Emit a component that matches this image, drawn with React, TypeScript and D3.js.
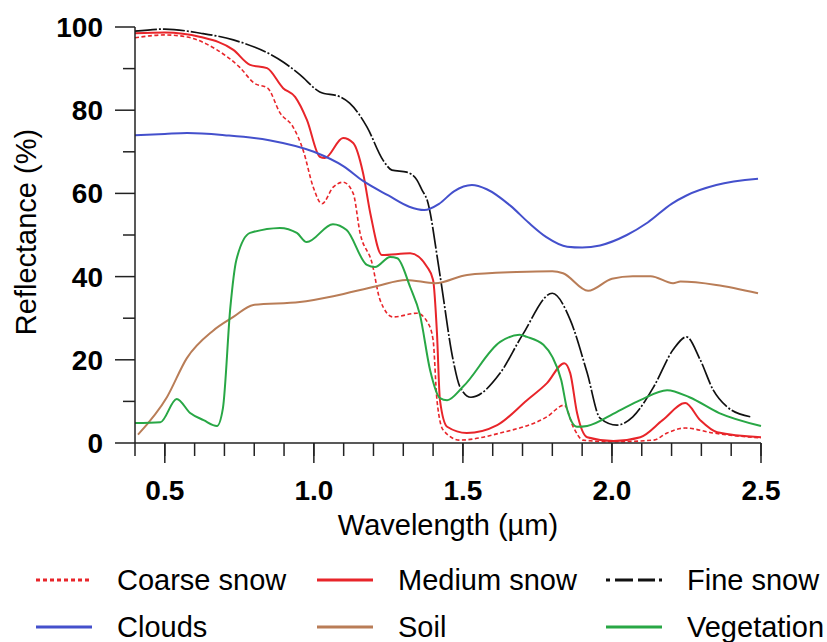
import React from 'react';
import * as d3 from 'd3';

type Pt = [number, number];

// wavelength (µm), reflectance (%)
const coarseSnow: Pt[] = [
  [0.40, 97.4], [0.50, 98.1], [0.575, 97.6], [0.675, 94.5], [0.75, 90.4], [0.80, 86.5], [0.845, 85.3],
  [0.887, 79.3], [0.93, 76], [0.964, 70.4], [0.998, 61.5], [1.027, 57.5], [1.065, 61.5], [1.098, 62.7],
  [1.132, 60], [1.155, 50.5], [1.195, 43.3], [1.222, 34.4], [1.266, 30.3], [1.346, 31.2], [1.383, 28.8],
  [1.40, 24.8], [1.413, 10.3], [1.434, 3.1], [1.49, 0.7], [1.625, 2.4], [1.782, 6.3], [1.84, 9.1],
  [1.87, 3.9], [1.903, 0.7], [2.0, 0.3], [2.14, 0.7], [2.185, 2.4], [2.246, 3.6], [2.34, 2.4], [2.5, 1.2],
];

const mediumSnow: Pt[] = [
  [0.40, 98.5], [0.50, 98.7], [0.62, 97.6], [0.73, 94.5], [0.786, 90.9], [0.843, 90.1], [0.897, 85.3],
  [0.937, 83.2], [0.977, 77.6], [1.02, 68.8], [1.037, 68.5], [1.098, 73.3], [1.132, 72.1], [1.165, 64.9],
  [1.19, 55], [1.228, 45.2], [1.323, 45.6], [1.38, 42.3], [1.40, 39.2], [1.413, 26.4], [1.423, 10.3],
  [1.447, 3.9], [1.513, 2.4], [1.615, 4.3], [1.715, 10.3], [1.782, 14.4], [1.84, 19.2], [1.86, 16.8],
  [1.883, 7.2], [1.917, 1.4], [2.005, 0.5], [2.095, 1.4], [2.17, 5.5], [2.246, 9.6], [2.296, 5.5],
  [2.353, 2.6], [2.5, 1.4],
];

const fineSnow: Pt[] = [
  [0.40, 99], [0.50, 99.5], [0.62, 98.5], [0.73, 96.9], [0.897, 91.6], [0.954, 88.5], [1.02, 84.4],
  [1.088, 83.2], [1.12, 81.7], [1.178, 76], [1.232, 68], [1.262, 65.6], [1.312, 65.1], [1.346, 63.2],
  [1.363, 60.8], [1.38, 58.4], [1.423, 40.4], [1.467, 20], [1.49, 13.5], [1.527, 11], [1.625, 16.8],
  [1.70, 26], [1.80, 36], [1.86, 29.6], [1.917, 16.8], [1.96, 6], [2.017, 4.3], [2.07, 6.3], [2.14, 13.5],
  [2.205, 22.4], [2.25, 25.5], [2.296, 20], [2.34, 12.7], [2.386, 8.7], [2.464, 6.3],
];

const clouds: Pt[] = [
  [0.40, 74], [0.50, 74.3], [0.575, 74.5], [0.70, 74], [0.85, 72.8], [1.0, 70], [1.10, 66.5],
  [1.165, 63], [1.25, 59.5], [1.32, 56.8], [1.37, 56], [1.42, 57.5], [1.47, 60.5], [1.53, 62],
  [1.58, 61], [1.66, 57], [1.72, 53], [1.78, 49.5], [1.85, 47.2], [1.9, 47], [1.96, 47.5], [2.05, 50],
  [2.12, 53], [2.2, 57.5], [2.25, 59.5], [2.35, 62], [2.49, 63.5],
];

const soil: Pt[] = [
  [0.41, 2], [0.507, 11], [0.574, 20.4], [0.662, 27], [0.73, 30.3], [0.797, 33.2], [0.953, 33.9],
  [1.065, 35.3], [1.21, 37.7], [1.31, 39.2], [1.407, 38.4], [1.514, 40.4], [1.68, 41.1], [1.80, 41.3],
  [1.836, 40.8], [1.92, 36.6], [2.0, 39.5], [2.07, 40.1], [2.13, 40.1], [2.205, 38.4], [2.23, 38.8],
  [2.35, 38], [2.49, 36],
];

const vegetation: Pt[] = [
  [0.40, 4.8], [0.485, 5], [0.54, 10.6], [0.585, 7.2], [0.63, 5.5], [0.675, 4.1], [0.695, 8.4],
  [0.72, 32.7], [0.74, 44], [0.786, 50.5], [0.886, 51.7], [0.943, 50.5], [0.976, 48.3], [1.064, 52.6],
  [1.11, 51.2], [1.178, 42.8], [1.205, 42.3], [1.256, 44.7], [1.28, 44.4], [1.323, 37.5], [1.356, 30.8],
  [1.39, 17.5], [1.423, 10.8], [1.447, 10.3], [1.5, 13.5], [1.625, 24.3], [1.69, 26], [1.715, 25.5],
  [1.77, 23.6], [1.80, 20.7], [1.83, 15.1], [1.85, 8], [1.883, 3.9], [1.917, 4.1], [2.017, 7.5],
  [2.095, 10.3], [2.185, 12.7], [2.26, 11], [2.36, 7.2], [2.5, 4.1],
];

const xMajorTicks = [0.5, 1.0, 1.5, 2.0, 2.5];
const xMinorTicks = d3.range(4, 26).map(i => i / 10);
const yMajorTicks = [0, 20, 40, 60, 80, 100];
const yMinorTicks = [10, 30, 50, 70, 90];

const RED = '#e8252a';

const series = [
  { name: 'Coarse snow', data: coarseSnow, color: RED, width: 1.6, dash: '4,2.5' },
  { name: 'Medium snow', data: mediumSnow, color: RED, width: 2, dash: null },
  { name: 'Fine snow', data: fineSnow, color: '#111', width: 1.7, dash: '22,2,2,2' },
  { name: 'Clouds', data: clouds, color: '#4450cc', width: 2, dash: null },
  { name: 'Soil', data: soil, color: '#b97d57', width: 2, dash: null },
  { name: 'Vegetation', data: vegetation, color: '#28a745', width: 2, dash: null },
];

// legend samples use their own patterns
const legendDash: Record<string, string> = {
  'Coarse snow': '4,3',
  'Fine snow': '4,5,18,5,17,4,3,100',
};

const FONT = '"Liberation Sans", Arial, Helvetica, sans-serif';

export default function App() {
  const W = 827;
  const H = 642;
  const x = d3.scaleLinear().domain([0.4, 2.5]).range([135, 761]);
  const y = d3.scaleLinear().domain([0, 100]).range([443, 27]);

  const line = d3.line<Pt>()
    .x(d => x(d[0]))
    .y(d => y(d[1]))
    .curve(d3.curveMonotoneX);

  const axisColor = '#222';
  const legendCols = [36, 317, 606];
  const legendRows = [580, 627];

  return (
    <svg width={W} height={H} style={{ position: 'absolute', left: 0, top: 0, background: '#fff' }}
      fontFamily={FONT}>
      {/* series */}
      <g fill="none" strokeLinejoin="round">
        {series.map(s => (
          <path key={s.name} d={line(s.data) || ''} stroke={s.color} strokeWidth={s.width}
            strokeDasharray={s.dash || undefined} />
        ))}
      </g>

      {/* y axis */}
      <line x1={x(0.4)} x2={x(0.4)} y1={y(100)} y2={y(0)} stroke={axisColor} strokeWidth={1.5} />
      {yMajorTicks.map(t => (
        <g key={'ym' + t}>
          <line x1={x(0.4) - 20} x2={x(0.4)} y1={y(t)} y2={y(t)} stroke={axisColor} strokeWidth={1.5} />
          <text x={103} y={y(t) + 10} textAnchor="end" fontSize={28} fontWeight="bold" fill="#000">{t}</text>
        </g>
      ))}
      {yMinorTicks.map(t => (
        <line key={'yn' + t} x1={x(0.4) - 12} x2={x(0.4)} y1={y(t)} y2={y(t)} stroke={axisColor} strokeWidth={1.5} />
      ))}

      {/* x axis */}
      <line x1={x(0.4)} x2={x(2.5)} y1={y(0)} y2={y(0)} stroke={axisColor} strokeWidth={1.5} />
      {xMinorTicks.map(t => (
        <line key={'xn' + t} x1={x(t)} x2={x(t)} y1={y(0)} y2={y(0) + 13} stroke={axisColor} strokeWidth={1.5} />
      ))}
      {xMajorTicks.map(t => (
        <g key={'xm' + t}>
          <line x1={x(t)} x2={x(t)} y1={y(0)} y2={y(0) + 20} stroke={axisColor} strokeWidth={1.5} />
          <text x={x(t)} y={500} textAnchor="middle" fontSize={28} fontWeight="bold" fill="#000">{t.toFixed(1)}</text>
        </g>
      ))}

      {/* axis titles */}
      <text x={448} y={535} textAnchor="middle" fontSize={29} fill="#000">Wavelength (µm)</text>
      <text transform="translate(36,232) rotate(-90)" textAnchor="middle" fontSize={29} fill="#000">Reflectance (%)</text>

      {/* legend */}
      {series.map((s, i) => {
        const cx = legendCols[i % 3];
        const cy = legendRows[Math.floor(i / 3)];
        const dash = legendDash[s.name];
        return (
          <g key={'lg' + s.name}>
            <line x1={cx} x2={cx + 56} y1={cy} y2={cy} stroke={s.color} strokeWidth={3}
              strokeDasharray={dash || undefined} />
            <text x={cx + 81} y={cy + 10} fontSize={29} fill="#000">{s.name}</text>
          </g>
        );
      })}
    </svg>
  );
}
